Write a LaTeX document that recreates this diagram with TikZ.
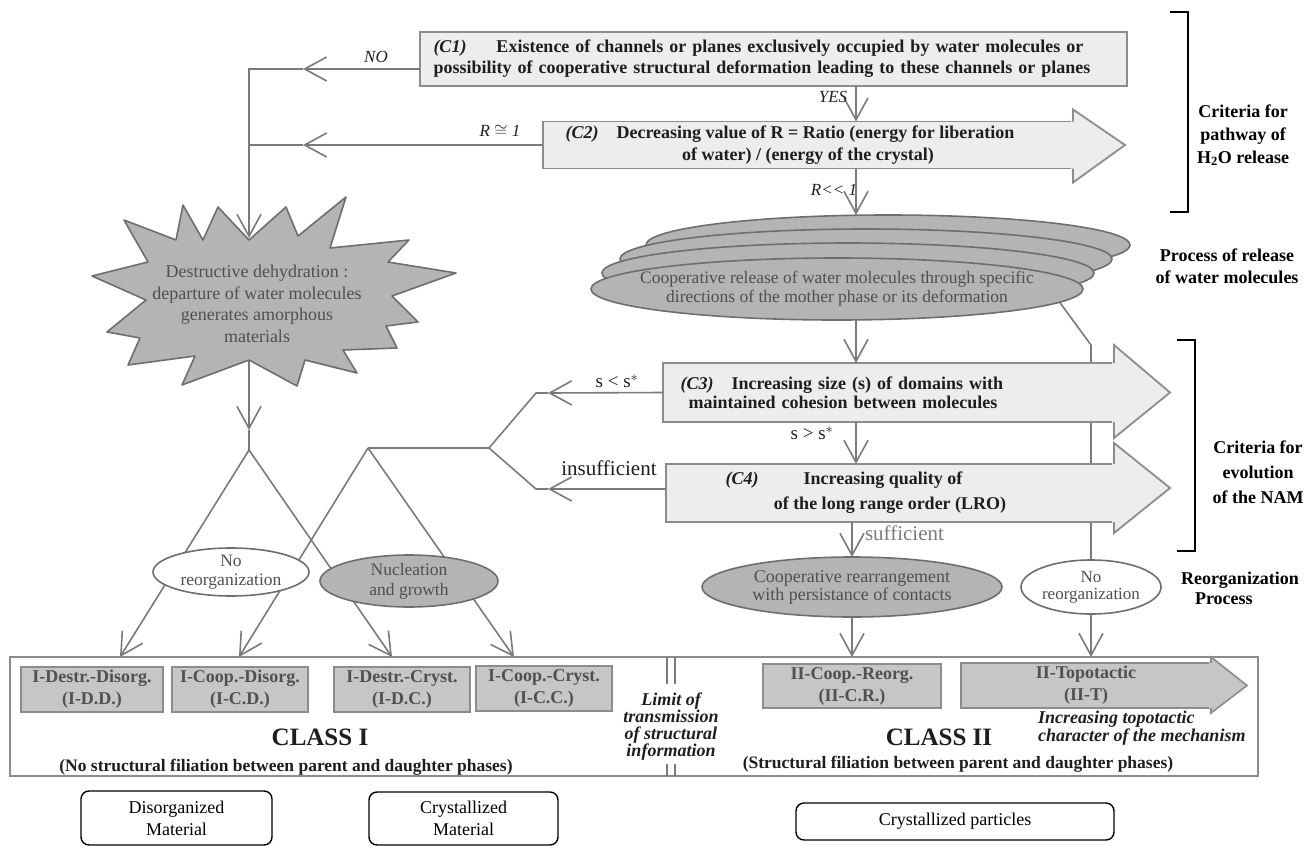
\documentclass[tikz,border=0pt]{standalone}
\usepackage{fontspec}
\setmainfont{Liberation Serif}
\usetikzlibrary{arrows.meta}
\usetikzlibrary{shapes.geometric}

\definecolor{boxfill}{HTML}{EDEDED}
\definecolor{boxline}{HTML}{8C8C8C}
\definecolor{wire}{HTML}{7A7A7A}
\definecolor{shade}{HTML}{B4B4B4}
\definecolor{shadeline}{HTML}{6E6E6E}
\definecolor{shadetext}{HTML}{505050}
\definecolor{itemfill}{HTML}{C6C6C6}
\definecolor{ink}{HTML}{1E1E1E}

\begin{document}
\begin{tikzpicture}[x=1pt,y=-1pt,inner sep=0pt,outer sep=0pt,line width=1.6pt,
wire/.style={draw=wire,line width=1.6pt},
arr/.style={draw=wire,line width=1.6pt,-{Straight Barb[length=22pt,width=24pt]}},
critbox/.style={draw=boxline,fill=boxfill,rectangle,line width=1.8pt,text=ink,font=\fontsize{18}{21}\selectfont\bfseries},
headline/.style={draw=boxline,line width=1.8pt},
blob/.style={draw=shadeline,fill=shade,ellipse,line width=1.6pt},
blobtext/.style={text=shadetext,align=center,font=\fontsize{17.5}{19}\selectfont},
itembox/.style={draw=boxline,fill=itemfill,rectangle,line width=1.6pt,text=shadetext,align=center,font=\fontsize{18}{22}\selectfont\bfseries},
cond/.style={text=ink,font=\fontsize{17}{17}\selectfont\itshape},
side/.style={text=black,align=center,font=\fontsize{18}{23}\selectfont\bfseries},
note/.style={draw=black,rounded corners=8pt,line width=1.4pt,fill=white,align=center,font=\fontsize{18}{22}\selectfont}]

\useasboundingbox (0,0) rectangle (1304,846);

% fixed points of the connectors
\coordinate (spine) at (856,0);
\coordinate (nocorner) at (249,69);
\coordinate (notip) at (303,69);
\coordinate (rjoin) at (249,145);
\coordinate (rtip) at (303,145);
\coordinate (burstin) at (249,238);
\coordinate (burstout) at (249,360);
\coordinate (downtip) at (249,430);
\coordinate (apexA) at (249,450);
\coordinate (apexB) at (368,448);
\coordinate (forkB) at (489,448);
\coordinate (forkup) at (536,393);
\coordinate (forkdown) at (536,489);
\coordinate (stip) at (548,393);
\coordinate (itip) at (548,489);
\coordinate (stacktop) at (856,215);
\coordinate (stackexit) at (1058,300);
\coordinate (bend) at (1091,345);
\coordinate (ddtip) at (120,657);
\coordinate (cdtip) at (239,657);
\coordinate (dctip) at (392,657);
\coordinate (cctip) at (514,657);

% class frame
\draw (634,716.5) node[draw=boxline,fill=white,rectangle,line width=2pt,minimum width=1248,minimum height=119] (classbox) {};

% left branches
\draw[arr] (burstout) -- (downtip);
\draw[wire] (downtip) -- (apexA);
\draw[arr] (apexA) -- (ddtip);
\draw[arr] (apexA) -- (dctip);
\draw[arr] (apexB) -- (cdtip);
\draw[arr] (apexB) -- (cctip);
\draw[wire] (stip) -- (forkup) -- (forkB) -- (forkdown) -- (itip);
\draw[wire] (forkB) -- (apexB);

% destructive dehydration
\draw[draw=shadeline,fill=shade,line width=1.6pt,line join=round] (92,276) -- (148,262) -- (124,220) -- (176,240) -- (183,205) -- (203,240) -- (218,207) -- (249,240) -- (286,207) -- (298,236) -- (346,197) -- (330,248) -- (409,240) -- (388,262) -- (456,273) -- (392,296) -- (418,322) -- (386,326) -- (397,348) -- (343,350) -- (357,373) -- (305,360) -- (297,386) -- (249,360) -- (182,385) -- (195,356) -- (128,365) -- (140,338) -- (107,332) -- (146,300) -- cycle;
\draw (257,304) node[blobtext,font=\fontsize{18}{21.5}\selectfont] (burst) {Destructive dehydration :\\departure of water molecules\\generates amorphous\\materials};

% path to the topotactic branch (hidden behind C3 and C4)
\draw[wire] (stackexit) -- (bend) -- (1091,560);

% stack of release ellipses
\draw[blob] (888,245) ellipse [x radius=242,y radius=30];
\draw[blob] (866,259) ellipse [x radius=246,y radius=30];
\draw[blob] (848,273) ellipse [x radius=246,y radius=30];
\draw (837,289) node[blob,minimum width=492,minimum height=62] (release) {};
\draw (release) node[blobtext] (releasetext) {Cooperative release of water molecules through specific\\directions of the mother phase or its deformation};

% criteria
\draw (773.5,59) node[critbox,minimum width=707,minimum height=54,text width=680,align=left] (c1) {\textit{(C1)}\hspace{30pt}Existence of channels or planes exclusively occupied by water molecules or\\possibility of cooperative structural deformation leading to these channels or planes};

\draw (808,145) node[critbox,minimum width=530,minimum height=47,align=center,font=\fontsize{18}{22}\selectfont\bfseries] (c2) {\textit{(C2)}\quad Decreasing value of R = Ratio (energy for liberation\hspace*{36pt}\\of water) / (energy of the crystal)};
\fill[boxfill] ([xshift=-2pt]c2.north east) -- ([yshift=12pt]c2.north east) -- ([xshift=52pt]c2.east) -- ([yshift=-14pt]c2.south east) -- ([xshift=-2pt]c2.south east) -- cycle;
\draw[headline] (c2.north east) -- ([yshift=12pt]c2.north east) -- ([xshift=52pt]c2.east) -- ([yshift=-14pt]c2.south east) -- (c2.south east);

\draw (888.5,392.5) node[critbox,minimum width=451,minimum height=59,text width=416,align=left,font=\fontsize{18}{19}\selectfont\bfseries] (c3) {\textit{(C3)}\hspace{18pt}Increasing size (s) of domains with\\\hspace*{8pt}maintained cohesion between molecules};
\fill[boxfill] ([xshift=-2pt]c3.north east) -- ([yshift=18pt]c3.north east) -- ([xshift=56pt]c3.east) -- ([yshift=-16pt]c3.south east) -- ([xshift=-2pt]c3.south east) -- cycle;
\draw[headline] (c3.north east) -- ([yshift=18pt]c3.north east) -- ([xshift=56pt]c3.east) -- ([yshift=-16pt]c3.south east) -- (c3.south east);

\draw (890,493) node[critbox,minimum width=448,minimum height=58,align=center,font=\fontsize{18}{25}\selectfont\bfseries] (c4) {\textit{(C4)}\hspace{45pt}Increasing quality of\hspace*{92pt}\\of the long range order (LRO)};
\fill[boxfill] ([xshift=-2pt]c4.north east) -- ([yshift=21pt]c4.north east) -- ([xshift=56pt,yshift=5pt]c4.east) -- ([yshift=-11pt]c4.south east) -- ([xshift=-2pt]c4.south east) -- cycle;
\draw[headline] (c4.north east) -- ([yshift=21pt]c4.north east) -- ([xshift=56pt,yshift=5pt]c4.east) -- ([yshift=-11pt]c4.south east) -- (c4.south east);

% reorganization ellipses
\draw (231,572) node[blob,fill=white,minimum width=156,minimum height=48] (noreorgA) {};
\draw (noreorgA) node[blobtext] (noreorgAtext) {No\\reorganization};
\draw (409,581) node[blob,minimum width=178,minimum height=52] (nucleation) {};
\draw (nucleation) node[blobtext,font=\fontsize{17.5}{20}\selectfont] (nucleationtext) {Nucleation\\and growth};
\draw (852,587) node[blob,minimum width=300,minimum height=60] (rearr) {};
\draw (rearr) node[blobtext,font=\fontsize{18}{18}\selectfont] (rearrtext) {Cooperative rearrangement\\with persistance of contacts};
\draw (1091,587) node[blob,fill=white,minimum width=140,minimum height=54] (noreorgB) {};
\draw (noreorgB) node[blobtext,font=\fontsize{17}{17}\selectfont] (noreorgBtext) {No\\reorganization};

% connectors
\draw[arr] (c1.west |- notip) -- (notip);
\draw[arr] (notip) -- (nocorner) -- (burstin);
\draw[arr] (c2.west |- rtip) -- (rtip);
\draw[wire] (rtip) -- (rjoin);
\draw[arr] (c1.south -| spine) -- (c2.north -| spine);
\draw[arr] (c2.south -| spine) -- (stacktop);
\draw[arr] (release.south -| spine) -- (c3.north -| spine);
\draw[arr] (c3.south -| spine) -- (c4.north -| spine);
\draw[arr] (c3.west) -- (stip);
\draw[arr] (c4.west |- itip) -- (itip);
\draw[arr] (c4.south -| rearr.north) -- (rearr.north);
\draw[arr] (rearr.south) -- (rearr.south |- classbox.north);
\draw[arr] (noreorgB.south) -- (noreorgB.south |- classbox.north);

% condition labels
\draw (376,57) node[cond] (nolabel) {NO};
\draw (833,97) node[cond] (yeslabel) {YES};
\draw (500,131) node[cond] (rlabel) {R $\cong$ 1};
\draw (834,190) node[cond] (rlllabel) {R\textless\kern0pt\textless\ 1};
\draw (617,381) node[text=ink,font=\fontsize{19}{19}\selectfont] (sless) {s < s$^{\ast}$};
\draw (812,433) node[text=ink,font=\fontsize{19}{19}\selectfont] (sgreater) {s > s$^{\ast}$};
\draw (609,468) node[text=ink,font=\fontsize{21}{21}\selectfont] (insuff) {insufficient};
\draw (865,533) node[anchor=west,text=wire,font=\fontsize{21}{21}\selectfont] (suff) {sufficient};

% classes
\draw (92,689.5) node[itembox,minimum width=142,minimum height=45] (idd) {I-Destr.-Disorg.\\(I-D.D.)};
\draw (240,689.5) node[itembox,minimum width=136,minimum height=45] (icd) {I-Coop.-Disorg.\\(I-C.D.)};
\draw (402,689.5) node[itembox,minimum width=136,minimum height=45] (idc) {I-Destr.-Cryst.\\(I-D.C.)};
\draw (544,688.5) node[itembox,minimum width=136,minimum height=45] (icc) {I-Coop.-Cryst.\\(I-C.C.)};
\draw (852,686) node[itembox,minimum width=178,minimum height=44] (iicr) {II-Coop.-Reorg.\\(II-C.R.)};
\draw (1086,685.5) node[itembox,minimum width=250,minimum height=45] (topo) {II-Topotactic\\(II-T)};
\fill[itemfill] ([xshift=-2pt]topo.north east) -- ([yshift=6pt]topo.north east) -- ([xshift=36pt]topo.east) -- ([yshift=-5pt]topo.south east) -- ([xshift=-2pt]topo.south east) -- cycle;
\draw[draw=boxline,line width=1.6pt] (topo.north east) -- ([yshift=6pt]topo.north east) -- ([xshift=36pt]topo.east) -- ([yshift=-5pt]topo.south east) -- (topo.south east);

\draw (320,737) node[text=ink,font=\fontsize{25}{25}\selectfont\bfseries] (classA) {CLASS I};
\draw (939,737) node[text=ink,font=\fontsize{25}{25}\selectfont\bfseries] (classB) {CLASS II};
\draw (286,767) node[text=ink,font=\fontsize{17.5}{17.5}\selectfont\bfseries] (filA) {(No structural filiation between parent and daughter phases)};
\draw (958,764) node[text=ink,font=\fontsize{17.5}{17.5}\selectfont\bfseries] (filB) {(Structural filiation between parent and daughter phases)};
\draw (671,727) node[text=ink,align=center,font=\fontsize{18}{17}\selectfont\bfseries\itshape] (limit) {Limit of\\transmission\\of structural\\information};
\draw[wire,line width=1.4pt] (667,657) -- (667,684) (675,657) -- (675,684) (667,764) -- (667,776) (675,764) -- (675,776);
\draw (1038,728) node[anchor=west,text=ink,align=left,font=\fontsize{18}{16}\selectfont\bfseries\itshape] (topochar) {Increasing topotactic\\character of the mechanism};

% side captions
\draw[black,line width=1.8pt] (1170,12) -- (1188,12) -- (1188,212) -- (1170,212);
\draw[black,line width=1.8pt] (1177,340) -- (1195,340) -- (1195,551) -- (1177,551);
\draw (1243,135) node[side] (critA) {Criteria for\\pathway of\\H\textsubscript{2}O release};
\draw (1227,266) node[side,font=\fontsize{18}{22}\selectfont\bfseries] (process) {Process of release\\of water molecules};
\draw (1258,472) node[side,font=\fontsize{18}{25}\selectfont\bfseries] (critB) {Criteria for\\evolution\\of the NAM};
\draw (1181,588) node[anchor=west,side,align=left,font=\fontsize{18}{20}\selectfont\bfseries] (reorg) {Reorganization\\\hspace*{14pt}Process};

% material states
\draw (176.5,818) node[note,minimum width=191,minimum height=54] (disorg) {Disorganized\\Material};
\draw (463.5,818.5) node[note,minimum width=189,minimum height=53] (cryst) {Crystallized\\Material};
\draw (955,821.5) node[note,minimum width=318,minimum height=37] (particles) {Crystallized particles};

\end{tikzpicture}
\end{document}
